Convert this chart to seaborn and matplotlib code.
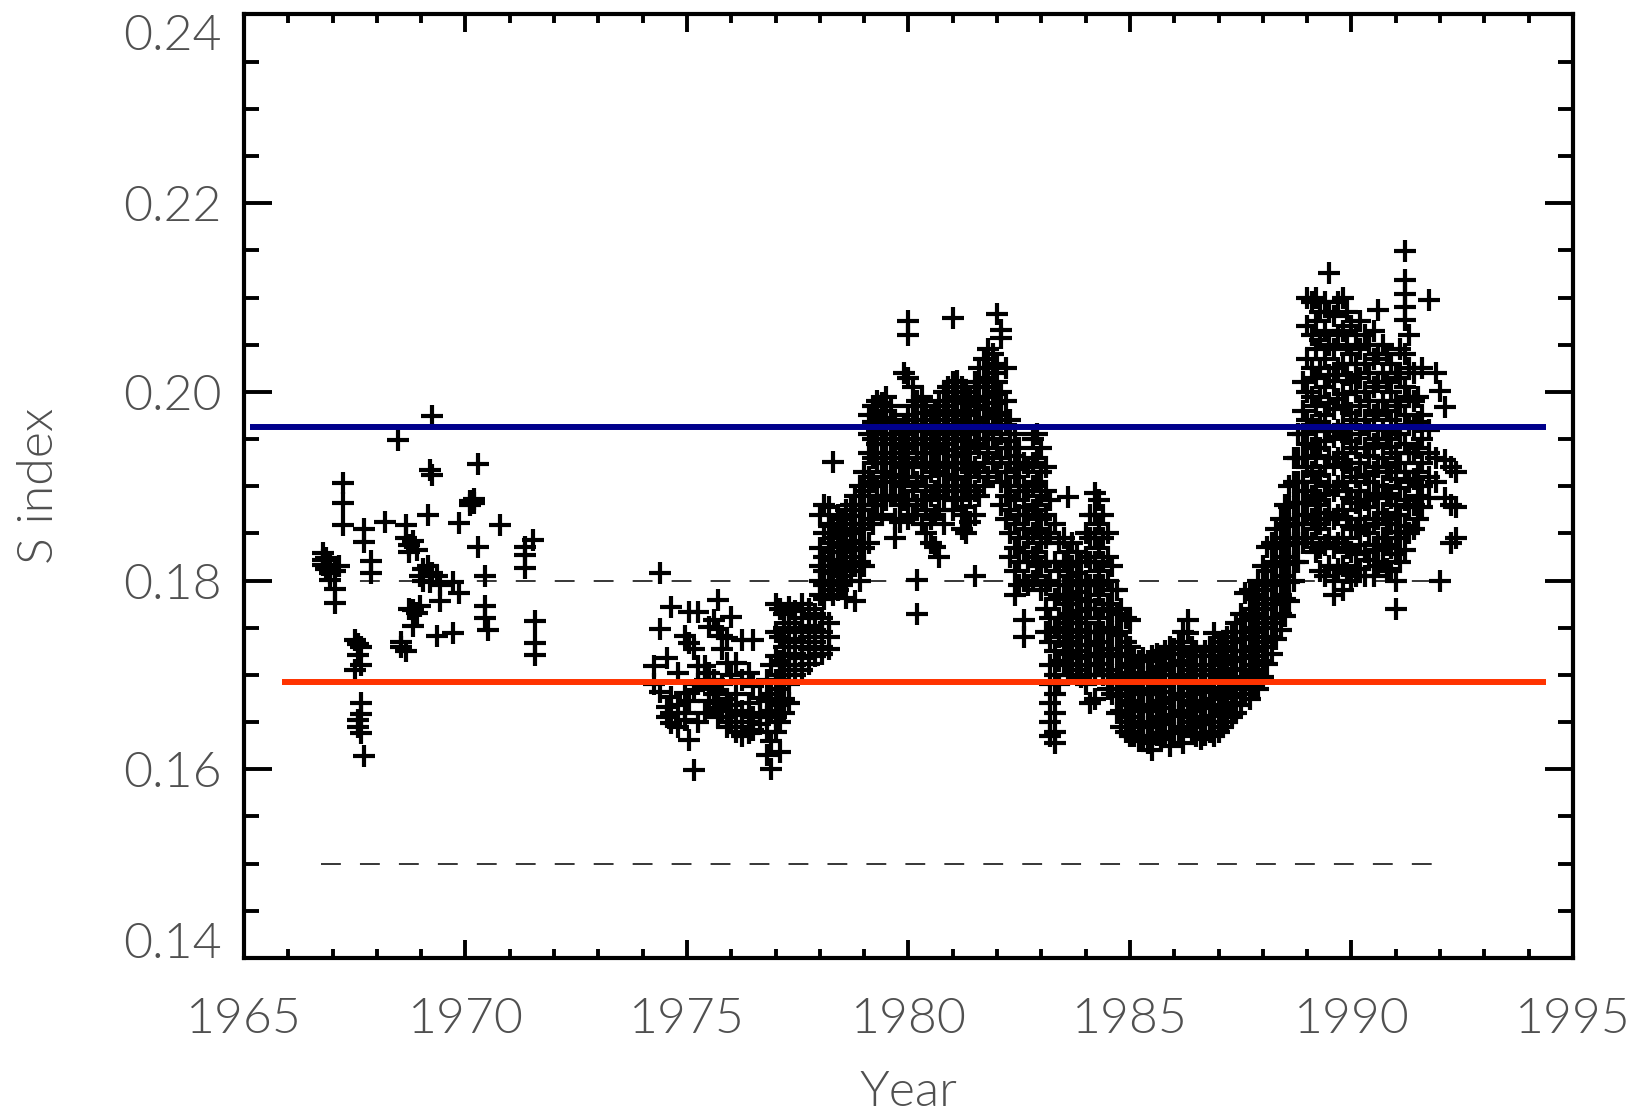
import matplotlib
matplotlib.use("Agg")
import matplotlib.pyplot as plt
import numpy as np
import pandas as pd
import seaborn as sns

# ---------------------------------------------------------------------------
# S-index observations. Each epoch (decimal year) carries the values measured
# around that date.
# ---------------------------------------------------------------------------
epochs_1967 = [1966.78, 1966.85, 1966.95, 1967.05, 1967.15, 1967.24, 1967.50,
               1967.58, 1967.65, 1967.72, 1967.88, 1968.18, 1968.48, 1968.55,
               1968.65, 1968.72, 1968.82, 1968.90, 1968.97, 1969.05, 1969.16,
               1969.20, 1969.24, 1969.35, 1969.42, 1969.73, 1969.85, 1970.10,
               1970.20, 1970.29, 1970.45, 1970.50, 1970.78, 1971.35, 1971.53,
               1971.57]
s_1967 = [[0.1829, 0.1822, 0.1817], [0.1824, 0.1812], [0.1815, 0.1808, 0.1801],
          [0.1810, 0.1791, 0.1776], [0.1815], [0.1903, 0.1882, 0.1859],
          [0.1737, 0.1705], [0.1733, 0.1721, 0.1652, 0.1645],
          [0.1730, 0.1711, 0.1670, 0.1659, 0.1638], [0.1855, 0.1841, 0.1614],
          [0.1821, 0.1808], [0.1862], [0.1949], [0.1735, 0.1730],
          [0.1859, 0.1845, 0.1725], [0.1838, 0.1830, 0.1770],
          [0.1842, 0.1769, 0.1752], [0.1832, 0.1766], [0.1773, 0.1805],
          [0.1800, 0.1812], [0.1869, 0.1815], [0.1917, 0.1798],
          [0.1974, 0.1912, 0.1808], [0.1805, 0.1741], [0.1778, 0.1795],
          [0.1744, 0.1798], [0.1861, 0.1787], [0.1884, 0.1880],
          [0.1886, 0.1882], [0.1924, 0.1836], [0.1773, 0.1760, 0.1805],
          [0.1748], [0.1859], [0.1836, 0.1827, 0.1813], [0.1843],
          [0.1757, 0.1734, 0.1721]]

epochs_1975 = [1974.25, 1974.40, 1974.55, 1974.65, 1974.80, 1974.95, 1975.05,
               1975.15, 1975.25, 1975.40, 1975.50, 1975.60, 1975.70, 1975.80,
               1975.90, 1976.00, 1976.10, 1976.25, 1976.40, 1976.50, 1976.65,
               1976.80, 1976.90, 1977.00, 1977.10, 1977.20, 1977.30, 1977.45,
               1977.60, 1977.75, 1977.90, 1978.05, 1978.20]
s_1975 = [[0.1709, 0.1690], [0.1808, 0.1749, 0.1682], [0.1718, 0.1666, 0.1655],
          [0.1772, 0.1677, 0.1649, 0.1660], [0.1702, 0.1668, 0.1645],
          [0.1741, 0.1681, 0.1660, 0.1652], [0.1767, 0.1734, 0.1672, 0.1631],
          [0.1727, 0.1684, 0.1599], [0.1767, 0.1709, 0.1690, 0.1650],
          [0.1709, 0.1695, 0.1660], [0.1751, 0.1702, 0.1688, 0.1672],
          [0.1758, 0.1695, 0.1680, 0.1665],
          [0.1779, 0.1749, 0.1684, 0.1670, 0.1655],
          [0.1741, 0.1727, 0.1690, 0.1662],
          [0.1739, 0.1713, 0.1675, 0.1655, 0.1645],
          [0.1761, 0.1700, 0.1668, 0.1650], [0.1713, 0.1680, 0.1658, 0.1640],
          [0.1737, 0.1695, 0.1662, 0.1645, 0.1635],
          [0.1702, 0.1670, 0.1650, 0.1638], [0.1737, 0.1688, 0.1655, 0.1642],
          [0.1676, 0.1660, 0.1648],
          [0.1695, 0.1672, 0.1655, 0.1640, 0.1615],
          [0.1710, 0.1680, 0.1662, 0.1630, 0.1600],
          [0.1775, 0.1745, 0.1720, 0.1695, 0.1675, 0.1655, 0.1640],
          [0.1770, 0.1740, 0.1715, 0.1700, 0.1685, 0.1668, 0.1650, 0.1618],
          [0.1765, 0.1750, 0.1730, 0.1710, 0.1692, 0.1675, 0.1660],
          [0.1772, 0.1755, 0.1735, 0.1720, 0.1705, 0.1690, 0.1670],
          [0.1768, 0.1750, 0.1738, 0.1722, 0.1710, 0.1700],
          [0.1775, 0.1760, 0.1745, 0.1730, 0.1718, 0.1705],
          [0.1770, 0.1752, 0.1740, 0.1728, 0.1712],
          [0.1765, 0.1748, 0.1735, 0.1720], [0.1760, 0.1745, 0.1730, 0.1722],
          [0.1755, 0.1740, 0.1728]]

epochs_1980 = [1978.00, 1978.10, 1978.20, 1978.30, 1978.40, 1978.50, 1978.60,
               1978.70, 1978.80, 1978.90, 1979.00, 1979.10, 1979.20, 1979.30,
               1979.40, 1979.50, 1979.60, 1979.70, 1979.80, 1979.90, 1980.00,
               1980.10, 1980.20, 1980.30, 1980.40, 1980.50, 1980.60, 1980.70,
               1980.80, 1980.90, 1981.00, 1981.10, 1981.20, 1981.30, 1981.40,
               1981.50, 1981.60, 1981.70, 1981.80, 1981.90, 1982.00, 1982.10,
               1982.20, 1982.30, 1982.40, 1982.50, 1982.60, 1982.70, 1982.80,
               1982.90]
s_1980 = [[0.1870, 0.1835, 0.1815, 0.1800, 0.1785],
          [0.1880, 0.1850, 0.1825, 0.1810, 0.1795, 0.1780],
          [0.1878, 0.1858, 0.1840, 0.1822, 0.1808, 0.1790],
          [0.1926, 0.1860, 0.1845, 0.1830, 0.1815, 0.1800, 0.1785],
          [0.1870, 0.1852, 0.1836, 0.1820, 0.1805, 0.1790],
          [0.1865, 0.1848, 0.1830, 0.1812, 0.1795],
          [0.1875, 0.1855, 0.1838, 0.1820, 0.1800, 0.1782],
          [0.1880, 0.1860, 0.1842, 0.1825, 0.1810],
          [0.1890, 0.1868, 0.1850, 0.1832, 0.1815, 0.1778],
          [0.1900, 0.1880, 0.1860, 0.1840, 0.1820, 0.1800],
          [0.1915, 0.1895, 0.1875, 0.1855, 0.1835, 0.1815],
          [0.1975, 0.1955, 0.1935, 0.1910, 0.1890, 0.1865, 0.1840],
          [0.1985, 0.1968, 0.1950, 0.1930, 0.1905, 0.1880, 0.1860],
          [0.1990, 0.1975, 0.1960, 0.1945, 0.1925, 0.1900, 0.1880],
          [0.1988, 0.1972, 0.1955, 0.1935, 0.1915, 0.1890, 0.1870],
          [0.1995, 0.1980, 0.1962, 0.1945, 0.1925, 0.1905, 0.1885],
          [0.1985, 0.1968, 0.1950, 0.1930, 0.1910, 0.1890],
          [0.1970, 0.1955, 0.1935, 0.1912, 0.1890, 0.1865, 0.1845],
          [0.1960, 0.1940, 0.1920, 0.1900, 0.1880, 0.1862],
          [0.2020, 0.1965, 0.1945, 0.1925, 0.1905, 0.1885],
          [0.2075, 0.2060, 0.2015, 0.1975, 0.1955, 0.1935, 0.1910, 0.1885,
           0.1865],
          [0.2005, 0.1985, 0.1965, 0.1945, 0.1920, 0.1895, 0.1870],
          [0.1990, 0.1970, 0.1950, 0.1930, 0.1905, 0.1880, 0.1801, 0.1765],
          [0.1995, 0.1978, 0.1958, 0.1935, 0.1910, 0.1885, 0.1860],
          [0.1985, 0.1965, 0.1945, 0.1925, 0.1900, 0.1875, 0.1850],
          [0.1975, 0.1955, 0.1935, 0.1915, 0.1890, 0.1865, 0.1840],
          [0.1980, 0.1960, 0.1940, 0.1920, 0.1895, 0.1870, 0.1836],
          [0.1990, 0.1970, 0.1950, 0.1925, 0.1900, 0.1875, 0.1825],
          [0.2000, 0.1980, 0.1960, 0.1938, 0.1912, 0.1888, 0.1860],
          [0.2005, 0.1985, 0.1965, 0.1945, 0.1920, 0.1895],
          [0.2078, 0.2010, 0.1990, 0.1970, 0.1950, 0.1925, 0.1900, 0.1875],
          [0.2012, 0.1995, 0.1975, 0.1955, 0.1932, 0.1908, 0.1885],
          [0.2005, 0.1988, 0.1968, 0.1948, 0.1925, 0.1900, 0.1878, 0.1855],
          [0.2000, 0.1980, 0.1960, 0.1940, 0.1918, 0.1895, 0.1870, 0.1850],
          [0.1995, 0.1975, 0.1955, 0.1935, 0.1910, 0.1888, 0.1862],
          [0.2010, 0.1990, 0.1968, 0.1945, 0.1920, 0.1895, 0.1870, 0.1805],
          [0.2025, 0.2005, 0.1985, 0.1962, 0.1940, 0.1915, 0.1890],
          [0.2035, 0.2015, 0.1995, 0.1972, 0.1950, 0.1925, 0.1900],
          [0.2045, 0.2025, 0.2005, 0.1982, 0.1958, 0.1935, 0.1910],
          [0.2040, 0.2020, 0.1998, 0.1975, 0.1950, 0.1925],
          [0.2083, 0.2030, 0.2010, 0.1988, 0.1965, 0.1940, 0.1915],
          [0.2066, 0.2057, 0.2000, 0.1978, 0.1955, 0.1930, 0.1905, 0.1880],
          [0.2025, 0.1990, 0.1965, 0.1940, 0.1915, 0.1890, 0.1865],
          [0.1970, 0.1948, 0.1925, 0.1900, 0.1875, 0.1850, 0.1825],
          [0.1955, 0.1932, 0.1910, 0.1885, 0.1860, 0.1835, 0.1810, 0.1785],
          [0.1940, 0.1918, 0.1895, 0.1870, 0.1845, 0.1820, 0.1795],
          [0.1925, 0.1900, 0.1878, 0.1855, 0.1830, 0.1800, 0.1758, 0.1740],
          [0.1920, 0.1895, 0.1870, 0.1845, 0.1820, 0.1795],
          [0.1950, 0.1925, 0.1900, 0.1875, 0.1850, 0.1825, 0.1800],
          [0.1955, 0.1930, 0.1905, 0.1880, 0.1855, 0.1830, 0.1805]]

epochs_1986 = [1983.00, 1983.10, 1983.20, 1983.30, 1983.40, 1983.50, 1983.60,
               1983.70, 1983.80, 1983.90, 1984.00, 1984.10, 1984.20, 1984.30,
               1984.40, 1984.50, 1984.60, 1984.70, 1984.80, 1984.90, 1985.00,
               1985.10, 1985.20, 1985.30, 1985.40, 1985.50, 1985.60, 1985.70,
               1985.80, 1985.90, 1986.00, 1986.10, 1986.20, 1986.30, 1986.40,
               1986.50, 1986.60, 1986.70, 1986.80, 1986.90, 1987.00, 1987.10,
               1987.20, 1987.30, 1987.40, 1987.50, 1987.60, 1987.70, 1987.80,
               1987.90, 1988.00, 1988.10, 1988.20, 1988.30, 1988.40, 1988.50,
               1988.60, 1988.70, 1988.80, 1988.90]
s_1986 = [[0.1940, 0.1915, 0.1890, 0.1865, 0.1840, 0.1815, 0.1790],
          [0.1920, 0.1895, 0.1870, 0.1845, 0.1820, 0.1795, 0.1770, 0.1745],
          [0.1885, 0.1850, 0.1800, 0.1760, 0.1735, 0.1710, 0.1690, 0.1670,
           0.1650, 0.1635],
          [0.1860, 0.1820, 0.1780, 0.1750, 0.1725, 0.1700, 0.1680, 0.1660,
           0.1640, 0.1628],
          [0.1840, 0.1810, 0.1785, 0.1760, 0.1740, 0.1715, 0.1690],
          [0.1845, 0.1820, 0.1795, 0.1775, 0.1755, 0.1735, 0.1712],
          [0.1889, 0.1830, 0.1805, 0.1785, 0.1765, 0.1745, 0.1722, 0.1700],
          [0.1840, 0.1815, 0.1795, 0.1775, 0.1755, 0.1732, 0.1710],
          [0.1830, 0.1808, 0.1788, 0.1768, 0.1748, 0.1725, 0.1705],
          [0.1820, 0.1800, 0.1780, 0.1760, 0.1740, 0.1718, 0.1698],
          [0.1850, 0.1825, 0.1800, 0.1778, 0.1755, 0.1732, 0.1710, 0.1690],
          [0.1870, 0.1845, 0.1820, 0.1795, 0.1770, 0.1745, 0.1720, 0.1700,
           0.1670],
          [0.1893, 0.1870, 0.1845, 0.1820, 0.1795, 0.1770, 0.1745, 0.1720,
           0.1700, 0.1674],
          [0.1885, 0.1860, 0.1835, 0.1810, 0.1785, 0.1760, 0.1735, 0.1712],
          [0.1870, 0.1845, 0.1820, 0.1795, 0.1770, 0.1745, 0.1722, 0.1700],
          [0.1850, 0.1825, 0.1800, 0.1775, 0.1750, 0.1728, 0.1705, 0.1685],
          [0.1815, 0.1790, 0.1768, 0.1745, 0.1722, 0.1700, 0.1680],
          [0.1790, 0.1765, 0.1742, 0.1720, 0.1698, 0.1678, 0.1660],
          [0.1770, 0.1745, 0.1722, 0.1700, 0.1680, 0.1662, 0.1645],
          [0.1760, 0.1735, 0.1712, 0.1692, 0.1672, 0.1655, 0.1640],
          [0.1758, 0.1730, 0.1708, 0.1688, 0.1668, 0.1650, 0.1635],
          [0.1720, 0.1702, 0.1685, 0.1668, 0.1650, 0.1635],
          [0.1715, 0.1698, 0.1680, 0.1662, 0.1645, 0.1630],
          [0.1718, 0.1700, 0.1682, 0.1665, 0.1648, 0.1632],
          [0.1715, 0.1698, 0.1680, 0.1662, 0.1645, 0.1628],
          [0.1720, 0.1702, 0.1685, 0.1668, 0.1650, 0.1635, 0.1620],
          [0.1722, 0.1705, 0.1688, 0.1670, 0.1652, 0.1636],
          [0.1718, 0.1700, 0.1682, 0.1665, 0.1648, 0.1632],
          [0.1725, 0.1708, 0.1690, 0.1672, 0.1655, 0.1638],
          [0.1730, 0.1712, 0.1694, 0.1676, 0.1658, 0.1640, 0.1625],
          [0.1728, 0.1710, 0.1692, 0.1674, 0.1656, 0.1638],
          [0.1735, 0.1715, 0.1697, 0.1678, 0.1660, 0.1642],
          [0.1745, 0.1722, 0.1700, 0.1680, 0.1662, 0.1645, 0.1628],
          [0.1758, 0.1744, 0.1720, 0.1700, 0.1680, 0.1662, 0.1645],
          [0.1730, 0.1710, 0.1690, 0.1672, 0.1655, 0.1638],
          [0.1725, 0.1705, 0.1686, 0.1668, 0.1650, 0.1635],
          [0.1720, 0.1700, 0.1682, 0.1665, 0.1648, 0.1632],
          [0.1725, 0.1705, 0.1688, 0.1670, 0.1652, 0.1636],
          [0.1730, 0.1710, 0.1692, 0.1674, 0.1656, 0.1640],
          [0.1744, 0.1725, 0.1705, 0.1686, 0.1668, 0.1650, 0.1635],
          [0.1730, 0.1712, 0.1694, 0.1676, 0.1658, 0.1640],
          [0.1735, 0.1716, 0.1698, 0.1680, 0.1662, 0.1645],
          [0.1740, 0.1720, 0.1702, 0.1684, 0.1666, 0.1650],
          [0.1745, 0.1725, 0.1706, 0.1688, 0.1670, 0.1655],
          [0.1755, 0.1735, 0.1715, 0.1695, 0.1677, 0.1660],
          [0.1765, 0.1745, 0.1725, 0.1705, 0.1685, 0.1668],
          [0.1787, 0.1758, 0.1738, 0.1718, 0.1698, 0.1680],
          [0.1790, 0.1770, 0.1750, 0.1730, 0.1710, 0.1692, 0.1675],
          [0.1785, 0.1765, 0.1745, 0.1725, 0.1705, 0.1688],
          [0.1800, 0.1780, 0.1760, 0.1740, 0.1720, 0.1702, 0.1685],
          [0.1815, 0.1795, 0.1775, 0.1755, 0.1735, 0.1715, 0.1698],
          [0.1836, 0.1810, 0.1790, 0.1770, 0.1750, 0.1730, 0.1712],
          [0.1840, 0.1820, 0.1800, 0.1780, 0.1760, 0.1740, 0.1722],
          [0.1855, 0.1835, 0.1815, 0.1795, 0.1775, 0.1755, 0.1738],
          [0.1865, 0.1845, 0.1825, 0.1805, 0.1785, 0.1765, 0.1748],
          [0.1880, 0.1860, 0.1840, 0.1820, 0.1800, 0.1780, 0.1762],
          [0.1900, 0.1878, 0.1858, 0.1838, 0.1818, 0.1798, 0.1778],
          [0.1930, 0.1905, 0.1882, 0.1860, 0.1840, 0.1820, 0.1800],
          [0.1955, 0.1930, 0.1905, 0.1882, 0.1860, 0.1840, 0.1820],
          [0.2010, 0.1980, 0.1955, 0.1930, 0.1905, 0.1882, 0.1860, 0.1840]]

epochs_1990 = [1989.00, 1989.10, 1989.20, 1989.30, 1989.40, 1989.50, 1989.60,
               1989.70, 1989.80, 1989.90, 1990.00, 1990.10, 1990.20, 1990.30,
               1990.40, 1990.50, 1990.60, 1990.70, 1990.80, 1990.90, 1991.00,
               1991.10, 1991.20, 1991.30, 1991.40, 1991.50, 1991.60, 1991.75,
               1991.90, 1992.00, 1992.10, 1992.25, 1992.35]
s_1990 = [[0.2100, 0.2070, 0.2035, 0.2000, 0.1970, 0.1945, 0.1920, 0.1895,
           0.1870, 0.1845],
          [0.2095, 0.2060, 0.2025, 0.1995, 0.1965, 0.1940, 0.1915, 0.1890,
           0.1865, 0.1840],
          [0.2100, 0.2075, 0.2045, 0.2015, 0.1985, 0.1958, 0.1932, 0.1905,
           0.1880, 0.1855, 0.1830],
          [0.2085, 0.2055, 0.2025, 0.1995, 0.1968, 0.1940, 0.1912, 0.1885,
           0.1860, 0.1835, 0.1810],
          [0.2095, 0.2065, 0.2035, 0.2005, 0.1975, 0.1948, 0.1920, 0.1892,
           0.1865, 0.1838, 0.1805],
          [0.2126, 0.2085, 0.2050, 0.2018, 0.1988, 0.1958, 0.1930, 0.1900,
           0.1872, 0.1845, 0.1815],
          [0.2080, 0.2045, 0.2012, 0.1982, 0.1952, 0.1922, 0.1895, 0.1865,
           0.1835, 0.1800, 0.1785],
          [0.2095, 0.2060, 0.2025, 0.1992, 0.1960, 0.1930, 0.1900, 0.1870,
           0.1840, 0.1812],
          [0.2100, 0.2065, 0.2030, 0.1998, 0.1965, 0.1935, 0.1905, 0.1875,
           0.1845, 0.1815, 0.1790],
          [0.2085, 0.2050, 0.2018, 0.1985, 0.1955, 0.1925, 0.1895, 0.1865,
           0.1835, 0.1808],
          [0.2070, 0.2040, 0.2010, 0.1978, 0.1948, 0.1918, 0.1888, 0.1858,
           0.1830, 0.1800],
          [0.2060, 0.2030, 0.2000, 0.1970, 0.1940, 0.1910, 0.1882, 0.1855,
           0.1828, 0.1805],
          [0.2075, 0.2045, 0.2015, 0.1985, 0.1955, 0.1925, 0.1895, 0.1865,
           0.1838, 0.1812],
          [0.2060, 0.2030, 0.2000, 0.1970, 0.1940, 0.1912, 0.1885, 0.1858,
           0.1830, 0.1805],
          [0.2050, 0.2020, 0.1990, 0.1960, 0.1932, 0.1905, 0.1878, 0.1850,
           0.1822],
          [0.2065, 0.2035, 0.2005, 0.1975, 0.1945, 0.1915, 0.1888, 0.1860,
           0.1832, 0.1805],
          [0.2087, 0.2040, 0.2010, 0.1980, 0.1950, 0.1920, 0.1892, 0.1865,
           0.1838, 0.1815],
          [0.2050, 0.2020, 0.1990, 0.1960, 0.1930, 0.1900, 0.1872, 0.1845,
           0.1820],
          [0.2040, 0.2010, 0.1980, 0.1950, 0.1920, 0.1892, 0.1865, 0.1838,
           0.1812],
          [0.2030, 0.2000, 0.1970, 0.1942, 0.1915, 0.1888, 0.1860, 0.1835,
           0.1810],
          [0.2020, 0.1990, 0.1962, 0.1935, 0.1908, 0.1880, 0.1852, 0.1828,
           0.1800, 0.1770],
          [0.2045, 0.2015, 0.1985, 0.1955, 0.1925, 0.1898, 0.1870, 0.1845,
           0.1820],
          [0.2149, 0.2119, 0.2104, 0.2090, 0.2076, 0.2040, 0.2005, 0.1975,
           0.1945, 0.1915, 0.1885, 0.1858, 0.1832],
          [0.2060, 0.2025, 0.1995, 0.1965, 0.1935, 0.1905, 0.1878, 0.1850],
          [0.2020, 0.1990, 0.1962, 0.1935, 0.1908, 0.1880, 0.1855],
          [0.1995, 0.1968, 0.1940, 0.1915, 0.1890, 0.1865],
          [0.2025, 0.1975, 0.1950, 0.1925, 0.1900, 0.1878],
          [0.2097, 0.1960, 0.1935, 0.1910, 0.1888],
          [0.2020, 0.1930, 0.1905], [0.2001, 0.1800],
          [0.1984, 0.1928, 0.1888], [0.1920, 0.1880, 0.1840],
          [0.1915, 0.1878, 0.1845]]

# Reference levels
high_level = 0.1963          # blue
low_level = 0.1692           # red
high_span = (1965.14, 1994.39)
low_span = (1965.85, 1994.39)
dashed_levels = [0.180, 0.150]
dashed_span = (1966.75, 1992.22)

# ---------------------------------------------------------------------------
rows = []
for epochs, values in [(epochs_1967, s_1967), (epochs_1975, s_1975),
                       (epochs_1980, s_1980), (epochs_1986, s_1986),
                       (epochs_1990, s_1990)]:
    for t, vals in zip(epochs, values):
        for v in vals:
            rows.append((t, v))
df = pd.DataFrame(rows, columns=["Year", "S"])

sns.set_style("ticks")
plt.rcParams["font.family"] = ["Lato", "DejaVu Sans"]

label_color = "#505050"
label_weight = 300
fig = plt.figure(figsize=(16.48, 11.12), dpi=100)
ax = fig.add_axes([0.148, 0.1385, 0.8065, 0.8485])

for lvl in dashed_levels:
    ax.hlines(lvl, *dashed_span, colors="black", linewidth=1.1,
              linestyles=(0, (13, 12.5)), zorder=1)

sns.scatterplot(data=df, x="Year", y="S", marker="+", s=230, color="black",
                linewidth=3.0, ax=ax, zorder=2, legend=False)

ax.hlines(high_level, *high_span, colors="#00008c", linewidth=4.3, zorder=3)
ax.hlines(low_level, *low_span, colors="#ff3300", linewidth=4.3, zorder=3)

ax.set_xlim(1965, 1995)
ax.set_ylim(0.14, 0.24)
ax.set_xticks(np.arange(1965, 1996, 5))
ax.set_xticks(np.arange(1965, 1996, 1), minor=True)
ax.set_yticks(np.arange(0.14, 0.2401, 0.02))
ax.set_yticks(np.arange(0.14, 0.2401, 0.005), minor=True)
ax.set_yticklabels([f"{v:.2f}" for v in np.arange(0.14, 0.2401, 0.02)])

for side in ["left", "right", "top", "bottom"]:
    ax.spines[side].set_visible(True)
    ax.spines[side].set_linewidth(3.0)
    ax.spines[side].set_color("black")

ax.tick_params(axis="both", which="both", direction="in", top=True,
               right=True, color="black", width=2.8)
ax.tick_params(axis="x", which="major", length=13, pad=28)
ax.tick_params(axis="x", which="minor", length=6.5)
ax.tick_params(axis="y", which="major", length=20, pad=16)
ax.tick_params(axis="y", which="minor", length=10.5)

for lab in ax.get_xticklabels() + ax.get_yticklabels():
    lab.set_fontsize(36)
    lab.set_fontweight(label_weight)
    lab.set_color(label_color)

# keep the end labels of the value axis inside the frame's height
ylabels = ax.get_yticklabels()
ylabels[0].set_verticalalignment("baseline")
ylabels[-1].set_verticalalignment("top")

ax.set_xlabel("Year", fontsize=36, fontweight=label_weight, color=label_color,
              labelpad=20)
ax.set_ylabel("S index", fontsize=36, fontweight=label_weight,
              color=label_color, labelpad=44)

fig.savefig("out.png", dpi=100, facecolor="white")
